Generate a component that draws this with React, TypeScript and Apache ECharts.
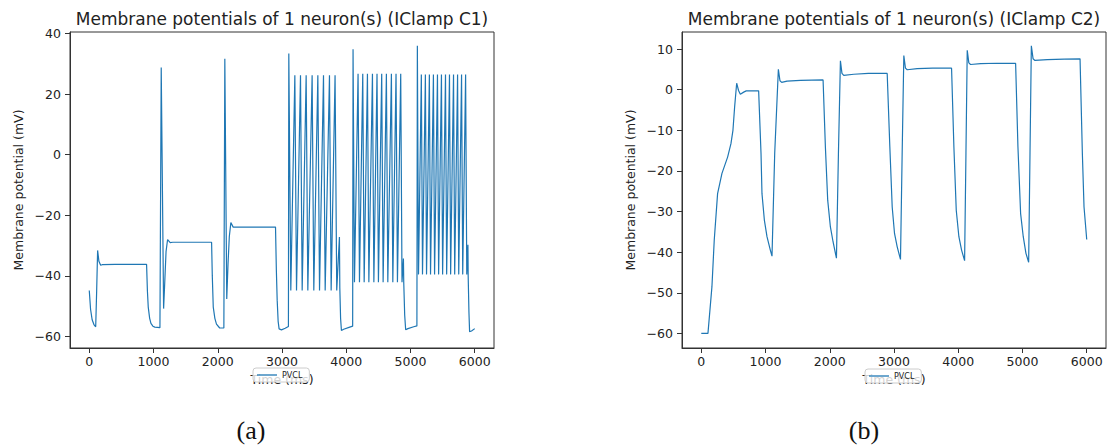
import React, { useEffect, useRef } from "react";
import * as echarts from "echarts";

const FONT = "DejaVu Sans";
const LINE_COLOR = "#1f77b4";

const titles = [
  "Membrane potentials of 1 neuron(s) (IClamp C1)",
  "Membrane potentials of 1 neuron(s) (IClamp C2)",
];
const captions = ["(a)", "(b)"];
const seriesName = "PVCL";
const xName = "Time (ms)";
const yName = "Membrane potential (mV)";

const timeTicks = [0, 1000, 2000, 3000, 4000, 5000, 6000];
const c1VoltTicks = [-60, -40, -20, 0, 20, 40];
const c2VoltTicks = [-60, -50, -40, -30, -20, -10, 0, 10];

// IClamp C1 trace, [time ms, potential mV]
const c1Step0: [number, number][] = [
  [0, -44.8], [20, -51], [45, -54.5], [75, -56.2], [100, -56.8], [115, -45], [130, -31.6],
  [150, -35.2], [177, -36.5], [200, -36.3], [400, -36.2], [892, -36.2], [905, -45],
  [918, -50.3], [940, -54], [960, -55.7], [990, -56.6], [1020, -56.9], [1100, -57.1],
];
const c1Step1: [number, number][] = [
  [1120, 28.8], [1157, -50.8], [1175, -42], [1195, -32], [1219, -28], [1260, -29],
  [1300, -28.9], [1904, -28.9], [1915, -40], [1930, -50.3], [1955, -54], [1980, -55.9],
  [2030, -57.2], [2095, -57.2],
];
const c1Step2: [number, number][] = [
  [2110, 31.7], [2140, -47.6], [2160, -36], [2180, -27], [2204, -22.4], [2240, -23.9],
  [2300, -23.9], [2899, -23.9], [2912, -38], [2925, -48], [2940, -55], [2955, -57.5],
  [2992, -57.8], [3050, -57.3], [3100, -56.7],
];
const c1Step3: [number, number][] = [
  [3106, 33.4], [3137, -44.8], [3200, 26.2], [3226, -44.8], [3288, 26.2], [3314, -44.8],
  [3376, 26.2], [3402, -44.8], [3469, 26.2], [3495, -44.8], [3558, 26.2], [3584, -44.8],
  [3646, 26.2], [3672, -44.8], [3739, 26.2], [3765, -44.8], [3826, 26.2], [3852, -44.8],
  [3894, -27.2], [3900, -44], [3912, -54], [3925, -58.0], [3960, -57.6], [4054, -56.9],
  [4100, -56.6],
];
const c1Step4: [number, number][] = [
  [4106, 34.8], [4128, -42.1], [4184, 26.7], [4206, -42.1], [4257, 26.7], [4279, -42.1],
  [4330, 26.7], [4352, -42.1], [4408, 26.7], [4430, -42.1], [4479, 26.7], [4501, -42.1],
  [4552, 26.7], [4574, -42.1], [4625, 26.7], [4647, -42.1], [4703, 26.7], [4725, -42.1],
  [4775, 26.7], [4797, -42.1], [4848, 26.7], [4868, -42.1], [4890, -34.3], [4895, -42],
  [4910, -53], [4925, -57.8], [4960, -57.4], [5050, -56.8], [5100, -56.5],
];
const c1Step5: [number, number][] = [
  [5107, 36.0], [5125, -39.5], [5169, 26.5], [5187, -39.5], [5232, 26.5], [5250, -39.5],
  [5294, 26.5], [5312, -39.5], [5357, 26.5], [5375, -39.5], [5420, 26.5], [5438, -39.5],
  [5482, 26.5], [5500, -39.5], [5545, 26.5], [5563, -39.5], [5607, 26.5], [5625, -39.5],
  [5670, 26.5], [5688, -39.5], [5733, 26.5], [5751, -39.5], [5795, 26.5], [5813, -39.5],
  [5858, 26.5], [5876, -39.5], [5894, -29.7], [5898, -40], [5910, -52], [5920, -58.4],
  [5950, -58.2], [6000, -57.4],
];

// IClamp C2 trace, [time ms, potential mV]
const c2Step0: [number, number][] = [
  [0, -60], [104, -60], [166, -48.5], [202, -37], [254, -25.6], [322, -20.6], [410, -16.6],
  [462, -13.3], [493, -10], [519, -4.3], [551, 1.6], [580, -0.2], [608, -1.1], [660, -0.6],
  [700, -0.3], [893, -0.3], [930, -15.7], [945, -25.6], [982, -32.1], [1023, -36.2],
  [1075, -39.5], [1101, -41],
];
const c2Step1: [number, number][] = [
  [1143, -15.7], [1200, 5], [1225, 2.2], [1252, 1.8], [1335, 2.1], [1543, 2.3], [1896, 2.4],
  [1932, -14.1], [1968, -27.2], [2010, -33.8], [2052, -37.5], [2104, -41.5],
];
const c2Step2: [number, number][] = [
  [2135, -15.7], [2166, 7.1], [2190, 4.0], [2218, 3.5], [2374, 3.8], [2600, 4.0], [2894, 4.0],
  [2935, -14], [2972, -28.9], [3008, -35.4], [3050, -38.7], [3101, -41.8],
];
const c2Step3: [number, number][] = [
  [3127, -15.7], [3153, 8.4], [3178, 5.3], [3206, 4.9], [3361, 5.2], [3600, 5.3], [3896, 5.3],
  [3932, -14], [3969, -29.7], [4010, -36.2], [4052, -39.5], [4099, -42.1],
];
const c2Step4: [number, number][] = [
  [4120, -15.7], [4140, 9.7], [4165, 6.6], [4192, 6.2], [4348, 6.4], [4600, 6.5], [4893, 6.5],
  [4929, -14], [4971, -30.5], [5012, -36.2], [5054, -40.3], [5096, -42.5],
];
const c2Step5: [number, number][] = [
  [5117, -15.7], [5138, 10.8], [5165, 7.6], [5194, 7.2], [5387, 7.4], [5650, 7.5], [5896, 7.6],
  [5932, -15.7], [5958, -28.9], [6000, -36.9],
];

const c1Data = [...c1Step0, ...c1Step1, ...c1Step2, ...c1Step3, ...c1Step4, ...c1Step5];
const c2Data = [...c2Step0, ...c2Step1, ...c2Step2, ...c2Step3, ...c2Step4, ...c2Step5];

const minusFmt = (v: number) => (v < 0 ? "\u2212" + Math.abs(v) : String(v));

const textStyle = { fontFamily: FONT, color: "#222", fontSize: 12.5 };

function xAxisFor(gridIndex: number) {
  return {
    type: "value",
    gridIndex,
    min: -300,
    max: 6300,
    name: xName,
    nameLocation: "middle",
    nameGap: 25,
    nameTextStyle: { ...textStyle },
    axisLine: { show: true, onZero: false, lineStyle: { color: "#333", width: 1 } },
    axisTick: { show: true, inside: false, length: 5, lineStyle: { color: "#333", width: 1 }, customValues: timeTicks },
    axisLabel: { ...textStyle, margin: 7, customValues: timeTicks, formatter: minusFmt },
    splitLine: { show: false },
  };
}

function yAxisFor(gridIndex: number, min: number, max: number, ticks: number[]) {
  return {
    type: "value",
    gridIndex,
    min,
    max,
    name: yName,
    nameLocation: "middle",
    nameGap: 45,
    nameTextStyle: { ...textStyle },
    axisLine: { show: true, onZero: false, lineStyle: { color: "#333", width: 1 } },
    axisTick: { show: true, inside: false, length: 5, lineStyle: { color: "#333", width: 1 }, customValues: ticks },
    axisLabel: { ...textStyle, margin: 9, customValues: ticks, formatter: minusFmt },
    splitLine: { show: false },
  };
}

function legendAt(left: number, top: number) {
  return {
    left,
    top,
    orient: "horizontal",
    data: [seriesName],
    icon: "rect",
    itemWidth: 20,
    itemHeight: 1.3,
    padding: [3, 7, 3, 4],
    backgroundColor: "rgba(255,255,255,0.8)",
    borderColor: "#cccccc",
    borderWidth: 1,
    borderRadius: 3,
    selectedMode: false,
    itemStyle: { color: LINE_COLOR, borderWidth: 0 },
    textStyle: { fontFamily: FONT, fontSize: 8, color: "#222", padding: [0, 0, 0, 0] },
  };
}

const option = {
  animation: false,
  backgroundColor: "#ffffff",
  grid: [
    { left: 70, top: 32, width: 424, height: 316, show: true, borderColor: "#333", borderWidth: 1 },
    { left: 682, top: 32, width: 424, height: 316, show: true, borderColor: "#333", borderWidth: 1 },
  ],
  xAxis: [xAxisFor(0), xAxisFor(1)],
  yAxis: [yAxisFor(0, -63.8, 40.5, c1VoltTicks), yAxisFor(1, -63.6, 14.2, c2VoltTicks)],
  legend: [legendAt(253, 368), legendAt(865, 369)],
  series: [
    {
      name: seriesName,
      type: "line",
      xAxisIndex: 0,
      yAxisIndex: 0,
      data: c1Data,
      symbol: "none",
      lineStyle: { color: LINE_COLOR, width: 1.2 },
      itemStyle: { color: LINE_COLOR },
    },
    {
      name: seriesName,
      type: "line",
      xAxisIndex: 1,
      yAxisIndex: 1,
      data: c2Data,
      symbol: "none",
      lineStyle: { color: LINE_COLOR, width: 1.2 },
      itemStyle: { color: LINE_COLOR },
    },
  ],
  graphic: [
    {
      type: "text",
      x: 282,
      y: 18.5,
      style: { text: titles[0], fontFamily: FONT, fontSize: 17, fill: "#222", align: "center", verticalAlign: "middle" },
    },
    {
      type: "text",
      x: 894,
      y: 18.5,
      style: { text: titles[1], fontFamily: FONT, fontSize: 17, fill: "#222", align: "center", verticalAlign: "middle" },
    },
    {
      type: "text",
      x: 251,
      y: 430,
      style: { text: captions[0], fontFamily: "Liberation Serif", fontSize: 26, fill: "#111", align: "center", verticalAlign: "middle" },
    },
    {
      type: "text",
      x: 864,
      y: 430,
      style: { text: captions[1], fontFamily: "Liberation Serif", fontSize: 26, fill: "#111", align: "center", verticalAlign: "middle" },
    },
  ],
};

export default function App() {
  const ref = useRef<HTMLDivElement>(null);
  useEffect(() => {
    const chart = echarts.init(ref.current!, null, { renderer: "svg" });
    chart.setOption(option as any);
    return () => chart.dispose();
  }, []);
  return (
    <div
      ref={ref}
      style={{ position: "absolute", left: 0, top: 0, width: 1109, height: 445 }}
    />
  );
}
